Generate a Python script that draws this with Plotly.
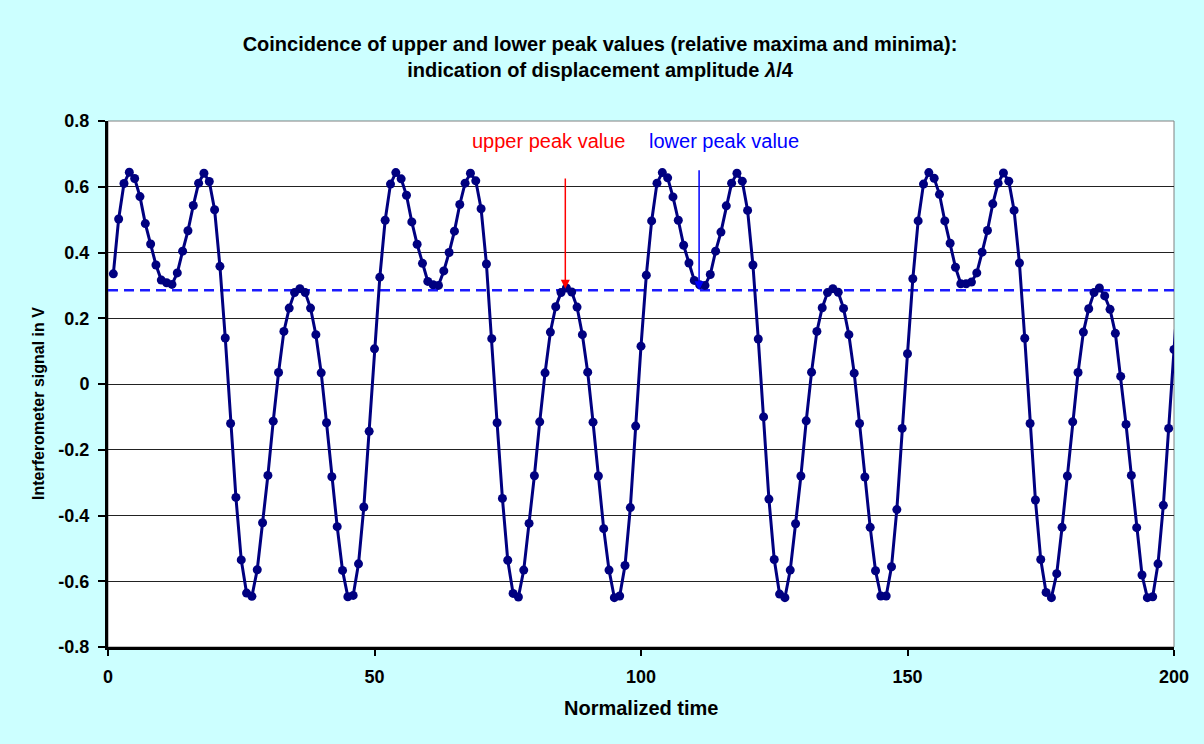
import plotly.graph_objects as go

# ---- data ----
cycle1 = [0.335, 0.502, 0.610, 0.644, 0.625, 0.570, 0.488, 0.426, 0.362, 0.316,
          0.308, 0.303, 0.338, 0.404, 0.466, 0.543, 0.611, 0.641, 0.616, 0.530,
          0.358, 0.140, -0.120, -0.345, -0.535, -0.636, -0.646, -0.565, -0.422, -0.278,
          -0.113, 0.035, 0.160, 0.231, 0.278, 0.290, 0.278, 0.231, 0.150, 0.034,
          -0.118, -0.282, -0.434, -0.567, -0.647, -0.643, -0.547, -0.374, -0.144, 0.107]
cycle2 = [0.325, 0.498, 0.608, 0.643, 0.624, 0.574, 0.493, 0.425, 0.367, 0.312,
          0.302, 0.300, 0.344, 0.400, 0.465, 0.546, 0.611, 0.641, 0.618, 0.533,
          0.365, 0.138, -0.118, -0.348, -0.536, -0.637, -0.648, -0.566, -0.424, -0.279,
          -0.115, 0.034, 0.158, 0.235, 0.278, 0.292, 0.280, 0.234, 0.150, 0.036,
          -0.116, -0.280, -0.440, -0.566, -0.650, -0.645, -0.552, -0.376, -0.128, 0.115]
cycle3 = [0.331, 0.496, 0.611, 0.643, 0.627, 0.569, 0.498, 0.422, 0.368, 0.315,
          0.302, 0.300, 0.333, 0.404, 0.462, 0.542, 0.611, 0.641, 0.617, 0.528,
          0.362, 0.137, -0.100, -0.350, -0.534, -0.639, -0.650, -0.566, -0.425, -0.280,
          -0.112, 0.036, 0.160, 0.232, 0.278, 0.290, 0.279, 0.230, 0.150, 0.033,
          -0.120, -0.283, -0.436, -0.568, -0.645, -0.645, -0.556, -0.382, -0.135, 0.092]
cycle4 = [0.320, 0.496, 0.608, 0.643, 0.626, 0.577, 0.496, 0.428, 0.355, 0.305,
          0.305, 0.310, 0.338, 0.401, 0.467, 0.548, 0.611, 0.642, 0.617, 0.528,
          0.368, 0.139, -0.120, -0.353, -0.534, -0.634, -0.650, -0.577, -0.436, -0.280,
          -0.115, 0.035, 0.158, 0.229, 0.278, 0.292, 0.268, 0.227, 0.154, 0.023,
          -0.123, -0.278, -0.437, -0.581, -0.650, -0.647, -0.547, -0.369, -0.135, 0.105]
tail = [0.340]

signal = cycle1 + cycle2 + cycle3 + cycle4 + tail
time = list(range(1, len(signal) + 1))

peak_level = 0.285
peak_line_x = [0, 200]

upper_peak_time = 85.8
lower_peak_time = 110.9

ytick_vals = [-0.8, -0.6, -0.4, -0.2, 0, 0.2, 0.4, 0.6, 0.8]
ytick_text = ["-0.8", "-0.6", "-0.4", "-0.2", "0", "0.2", "0.4", "0.6", "0.8"]
xtick_vals = [0, 50, 100, 150, 200]
xtick_text = ["0", "50", "100", "150", "200"]

FONT = "Arial, 'Liberation Sans', sans-serif"

fig = go.Figure()

fig.add_trace(go.Scatter(
    x=peak_line_x, y=[peak_level, peak_level], mode="lines",
    line=dict(color="#1a1aff", width=2.5, dash="10px,6px"),
    hoverinfo="skip", showlegend=False))

fig.add_trace(go.Scatter(
    x=time, y=signal, mode="lines+markers",
    line=dict(color="#000080", width=3),
    marker=dict(color="#000080", size=9),
    showlegend=False))

# annotation arrows
fig.add_annotation(x=upper_peak_time, y=0.29, ax=upper_peak_time, ay=0.63,
                   xref="x", yref="y", axref="x", ayref="y", text="",
                   showarrow=True, arrowhead=2, arrowsize=1.2, arrowwidth=1.5,
                   arrowcolor="#ff0000")
fig.add_annotation(x=lower_peak_time, y=0.285, ax=lower_peak_time, ay=0.655,
                   xref="x", yref="y", axref="x", ayref="y", text="",
                   showarrow=True, arrowhead=2, arrowsize=1.2, arrowwidth=1.5,
                   arrowcolor="#0000ff")
fig.add_annotation(x=82.7, y=0.74, xref="x", yref="y", text="upper peak value",
                   showarrow=False, font=dict(family=FONT, size=20, color="#ff0000"))
fig.add_annotation(x=115.5, y=0.74, xref="x", yref="y", text="lower peak value",
                   showarrow=False, font=dict(family=FONT, size=20, color="#0000ff"))

# axis titles
fig.add_annotation(x=0.5, y=(647 - 708) / 526, xref="paper", yref="paper",
                   text="<b>Normalized time</b>", showarrow=False,
                   font=dict(family=FONT, size=20, color="black"), yanchor="middle")
fig.add_annotation(x=(38 - 108) / 1066, y=(647 - 404) / 526, xref="paper", yref="paper",
                   text="<b>Interferometer signal in V</b>", showarrow=False,
                   textangle=-90, font=dict(family=FONT, size=16, color="black"),
                   xanchor="center", yanchor="middle")

# plot area border (grey)
fig.add_shape(type="rect", xref="paper", yref="paper", x0=0, y0=0, x1=1, y1=1,
              line=dict(color="#808080", width=1), layer="below")

fig.update_layout(
    width=1204, height=744,
    margin=dict(l=108, r=30, t=121, b=97),
    paper_bgcolor="#ccffff", plot_bgcolor="white",
    font=dict(family=FONT, color="black"),
    title=dict(text="<b>Coincidence of upper and lower peak values (relative maxima and minima):<br>"
                    "indication of displacement amplitude <i>λ</i>/4</b>",
               x=600 / 1204, xanchor="center", y=1 - 51 / 744, yanchor="middle",
               font=dict(family=FONT, size=20, color="black")),
    showlegend=False,
)
fig.update_xaxes(range=[0, 200], tickvals=xtick_vals, ticktext=xtick_text,
                 showgrid=False, zeroline=False, showline=True, linecolor="black",
                 linewidth=3, ticks="outside", ticklen=6, tickwidth=1.5, tickcolor="black",
                 tickfont=dict(family=FONT, size=18, color="black", weight="bold"),
                 ticklabelstandoff=5)
fig.update_yaxes(range=[-0.8, 0.8], tickvals=ytick_vals, ticktext=ytick_text,
                 showgrid=True, gridcolor="#222222", gridwidth=1, zeroline=False,
                 showline=True, linecolor="black", linewidth=3, ticks="outside",
                 ticklen=7, tickwidth=1.5, tickcolor="black",
                 tickfont=dict(family=FONT, size=18, color="black", weight="bold"),
                 ticklabelstandoff=5)

fig.write_html("out.html")
